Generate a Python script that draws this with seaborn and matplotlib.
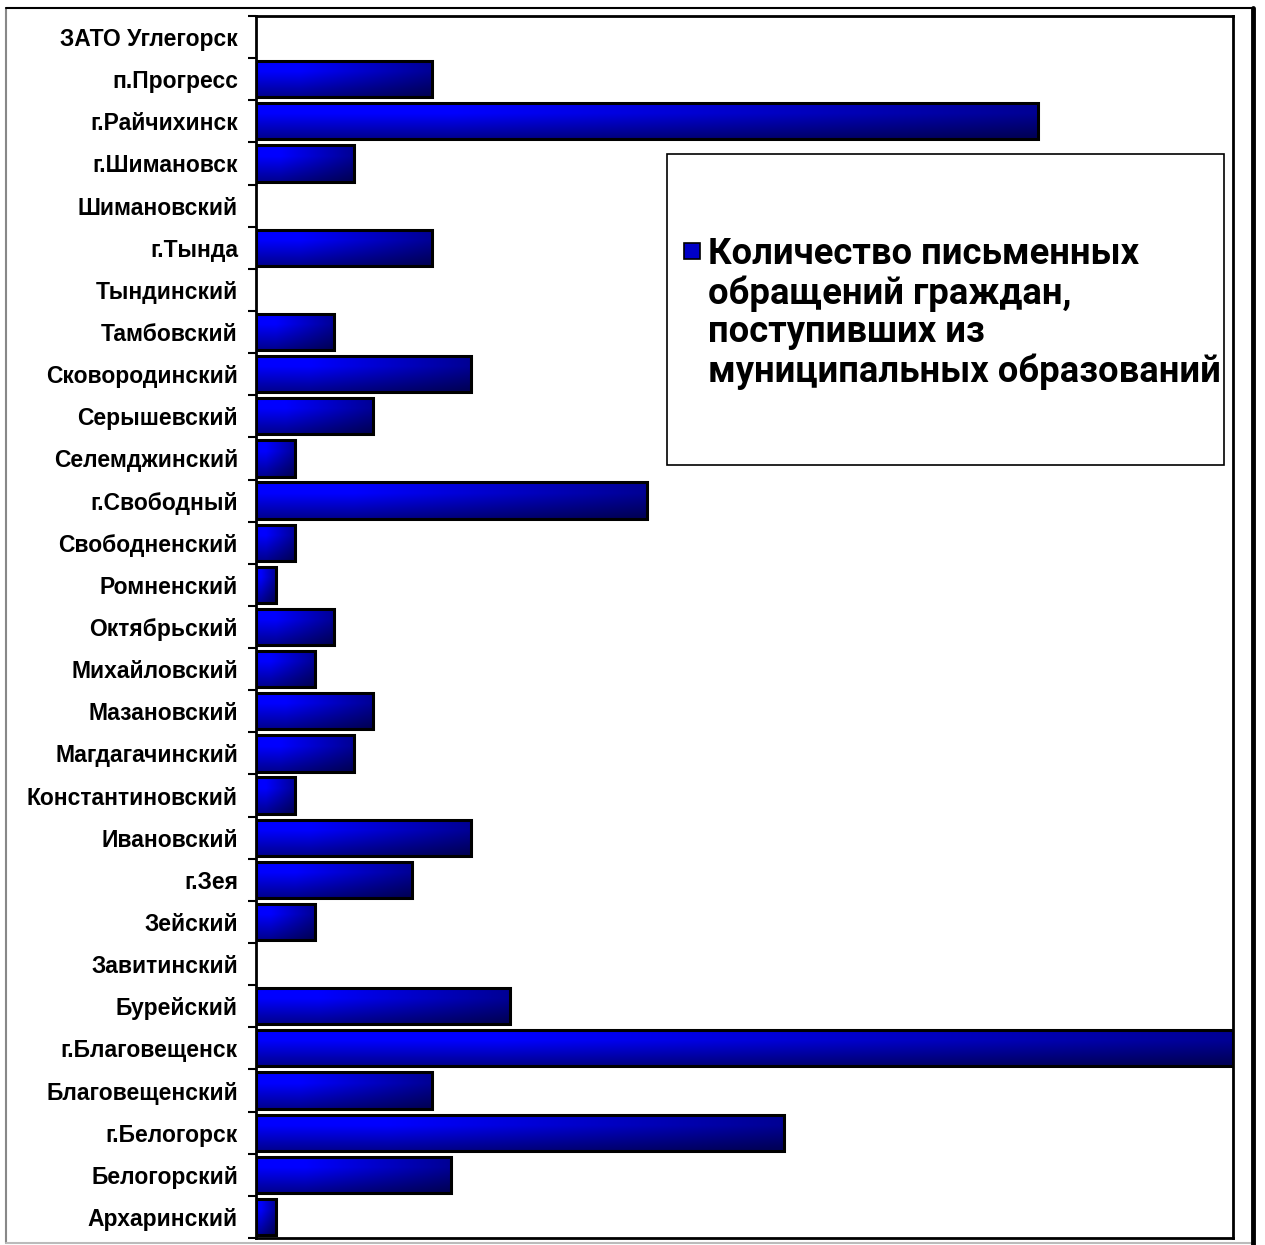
import numpy as np
import pandas as pd
import seaborn as sns
from matplotlib import pyplot as plt
from matplotlib.patches import Rectangle
from matplotlib.lines import Line2D

# municipalities, top to bottom as in the chart
districts = [
    "ЗАТО Углегорск", "п.Прогресс", "г.Райчихинск", "г.Шимановск", "Шимановский",
    "г.Тында", "Тындинский", "Тамбовский", "Сковородинский", "Серышевский",
    "Селемджинский", "г.Свободный", "Свободненский", "Ромненский", "Октябрьский",
    "Михайловский", "Мазановский", "Магдагачинский", "Константиновский", "Ивановский",
    "г.Зея", "Зейский", "Завитинский", "Бурейский", "г.Благовещенск",
    "Благовещенский", "г.Белогорск", "Белогорский", "Архаринский",
]
letters = [
    0, 9, 40, 5, 0,
    9, 0, 4, 11, 6,
    2, 20, 2, 1, 4,
    3, 6, 5, 2, 11,
    8, 3, 0, 13, 50,
    9, 27, 10, 1,
]
series_name = ("Количество письменных\nобращений граждан,\n"
               "поступивших из\nмуниципальных образований")

df = pd.DataFrame({"district": districts, "count": letters})

sns.set_style("white")
plt.rcParams["font.family"] = ["Liberation Sans", "DejaVu Sans"]
plt.rcParams["text.color"] = "black"

W, H = 1265, 1245
fig = plt.figure(figsize=(W / 100, H / 100), dpi=100)
ax = fig.add_axes([256 / W, 1 - 1238 / H, (1233 - 256) / W, (1238 - 16) / H])

sns.barplot(data=df, y="district", x="count", orient="h", ax=ax,
            color="#0000ff", width=0.86, edgecolor="black", linewidth=2.2)


def bar_gradient(nx=200, ny=60):
    # bright upper-left, navy toward the right end and the bottom
    t = np.linspace(0, 1, ny)[:, None]
    s = np.linspace(0, 1, nx)[None, :]
    v = np.where(t < 0.3, 1.0, 1.0 - (t - 0.3) / 0.7 * 0.45)
    h = np.where(s < 0.25, 1.0, 1.0 - (s - 0.25) / 0.75 * 0.42)
    b = np.clip(v * h, 0.35, 1.0)
    img = np.zeros((ny, nx, 3))
    img[..., 2] = b
    return img


grad = bar_gradient()
for p in list(ax.patches):
    x0, y0 = p.get_x(), p.get_y()
    w, hgt = p.get_width(), p.get_height()
    if w <= 0:
        p.set_visible(False)
        continue
    im = ax.imshow(grad, extent=(x0, x0 + w, y0 + hgt, y0), origin="upper",
                   aspect="auto", zorder=p.get_zorder() - 0.1, interpolation="bilinear")
    im.set_clip_path(p)
    p.set_facecolor("none")

ax.set_xlim(0, 50)
ax.set_ylim(len(districts) - 0.5, -0.5)

ax.set_xlabel("")
ax.set_ylabel("")
ax.set_xticks([])
ax.tick_params(axis="y", which="major", length=0, pad=13)
ax.set_yticks(np.arange(-0.5, len(districts), 1.0), minor=True)
ax.tick_params(axis="y", which="minor", length=6, width=1.5, color="black", left=True)
for lab in ax.get_yticklabels():
    lab.set_fontsize(16.5)
    lab.set_fontweight("bold")
    lab.set_color("black")
for sp in ax.spines.values():
    sp.set_visible(True)
    sp.set_color("black")
    sp.set_linewidth(2)

# legend box
fig.patches.append(Rectangle((667 / W, 1 - 465 / H), (1224 - 667) / W, (465 - 154) / H,
                             transform=fig.transFigure, facecolor="white",
                             edgecolor="black", linewidth=1.2, zorder=5))
handle = Line2D([], [], linestyle="none", marker="s", markersize=12,
                markerfacecolor="#0000c8", markeredgecolor="black", markeredgewidth=1.2)
leg = fig.legend([handle], [series_name], loc="center left",
                 bbox_to_anchor=(650 / W, 1 - 313 / H), frameon=False,
                 handlelength=0.5, handleheight=1.0, handletextpad=0.2,
                 prop={"family": ["Roboto", "DejaVu Sans"], "weight": "bold", "size": 26.2})
leg.set_zorder(6)
for t in leg.get_texts():
    t.set_linespacing(1.1)
for col in leg._legend_handle_box.get_children():
    for item in col.get_children():
        item.align = "top"

# outer frame
fig.add_artist(Line2D([6 / W, 6 / W], [1 - 1243 / H, 1 - 8 / H], color="#888888", lw=1.5))
fig.add_artist(Line2D([6 / W, 1253 / W], [1 - 1243 / H, 1 - 1243 / H], color="#bbbbbb", lw=1.5))
fig.add_artist(Line2D([6 / W, 1253 / W], [1 - 8 / H, 1 - 8 / H], color="black", lw=1.5))
fig.add_artist(Line2D([1253 / W, 1253 / W], [1 - 1245 / H, 1 - 8 / H], color="black", lw=3.5))

fig.savefig("out.png", dpi=100)
